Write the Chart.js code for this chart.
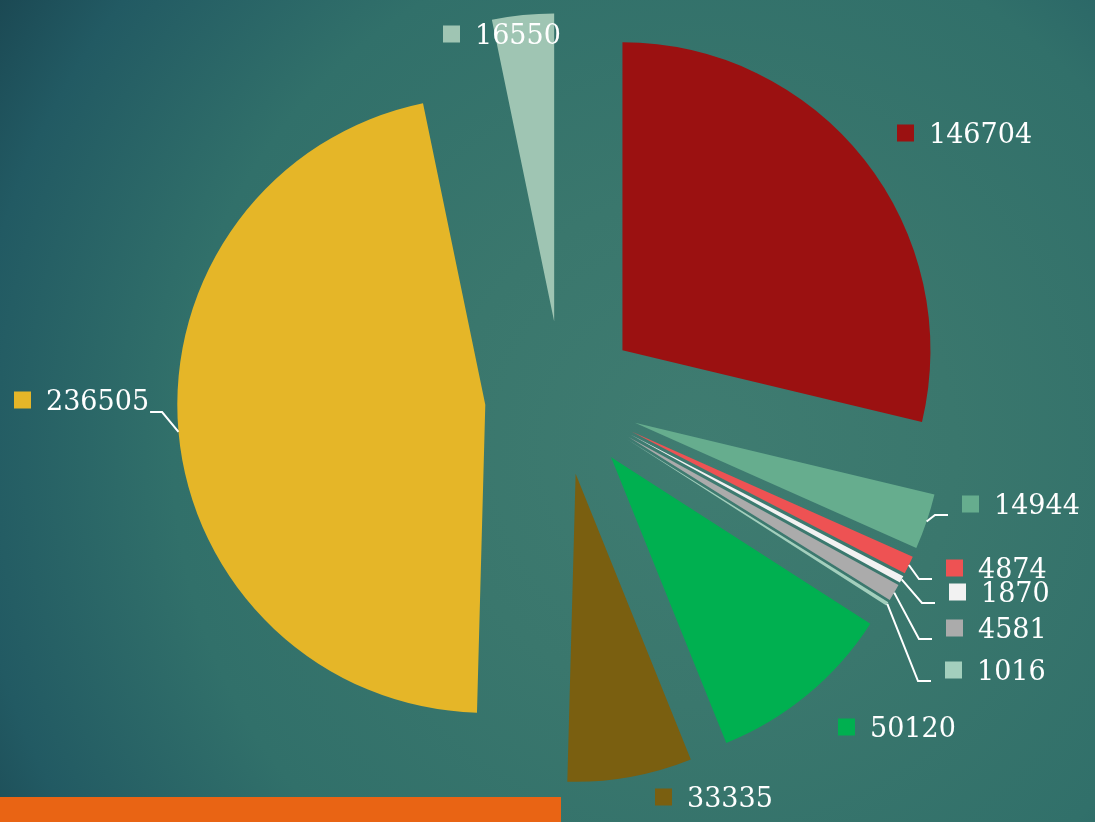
<!DOCTYPE html>
<html><head><meta charset="utf-8">
<script src="https://cdn.jsdelivr.net/npm/chart.js@4.4.1/dist/chart.umd.min.js"></script>
<style>
html,body{margin:0;padding:0;width:1095px;height:822px;overflow:hidden;}
body{background:radial-gradient(circle 850px at 700px 450px,#3f7c71 0%,#3a776d 30%,#31706a 62%,#225a63 86%,#1a4651 100%);}
#wrap{position:relative;width:1095px;height:822px;}
#band{position:absolute;left:0;top:797px;width:561px;height:25px;background:#E96414;}
canvas{position:absolute;left:0;top:0;}
</style></head><body>
<div id="wrap"><div id="band"></div><canvas id="c" width="1095" height="822"></canvas></div>
<script>
// ---- data ----
const values = [146704, 14944, 4874, 1870, 4581, 1016, 50120, 33335, 236505, 16550];
const categories = values.map(v => String(v));
const colors = ['#9B1111', '#66AD8E', '#EE5253', '#F2F2F2', '#ABABAB', '#A3CFBD', '#00B050', '#7A5F10', '#E5B628', '#9FC5B3'];

// ---- layout (label anchors: square left x, centre y) ----
const labelAnchors = [[897,133],[962,504],[946,568],[949,592],[946,628],[945,670],[838,727],[655,797],[14,400],[443,34]];
const leaderSide = ['none','right','right','right','right','right','none','none','left','none'];
const R = 308;        // pie radius
const EXPLODE = 77;   // distance every slice is pulled out

const explode = {
  id: 'explode',
  beforeDatasetsDraw(chart) {
    const ca = chart.chartArea;
    const cx = (ca.left + ca.right) / 2, cy = (ca.top + ca.bottom) / 2;
    chart.getDatasetMeta(0).data.forEach(a => {
      const mid = (a.startAngle + a.endAngle) / 2;
      a.x = cx + Math.cos(mid) * EXPLODE;
      a.y = cy + Math.sin(mid) * EXPLODE;
    });
  }
};

const valueLabels = {
  id: 'valueLabels',
  afterDatasetsDraw(chart) {
    const ctx = chart.ctx;
    const meta = chart.getDatasetMeta(0);
    ctx.save();
    ctx.font = '27px "DejaVu Serif"';
    ctx.textBaseline = 'alphabetic';
    ctx.textAlign = 'left';
    meta.data.forEach((arc, i) => {
      const [sx, cy] = labelAnchors[i];
      ctx.fillStyle = colors[i];
      ctx.fillRect(sx, cy - 8.5, 17, 17);
      const txt = categories[i];
      ctx.fillStyle = '#ffffff';
      ctx.fillText(txt, sx + 32, cy + 10);
      const side = leaderSide[i];
      if (side !== 'none') {
        const mid = (arc.startAngle + arc.endAngle) / 2;
        const px = arc.x + Math.cos(mid) * arc.outerRadius, py = arc.y + Math.sin(mid) * arc.outerRadius;
        ctx.strokeStyle = '#ffffff';
        ctx.lineWidth = 2;
        ctx.beginPath();
        if (side === 'right') {
          const ly = cy + 11;
          ctx.moveTo(px, py); ctx.lineTo(sx - 27, ly); ctx.lineTo(sx - 14, ly);
        } else {
          const w = ctx.measureText(txt).width;
          const tx = sx + 32 + w, ly = cy + 12;
          ctx.moveTo(tx + 1, ly); ctx.lineTo(tx + 13, ly); ctx.lineTo(px, py);
        }
        ctx.stroke();
      }
    });
    ctx.restore();
  }
};

new Chart(document.getElementById('c'), {
  type: 'pie',
  data: {
    labels: categories,
    datasets: [{
      data: values,
      backgroundColor: colors,
      borderWidth: 0,
      offset: 0
    }]
  },
  options: {
    responsive: false,
    animation: false,
    events: [],
    radius: R,
    rotation: 0,
    layout: { padding: { left: 29, right: 0, top: 0, bottom: 26 } },
    plugins: { legend: { display: false }, tooltip: { enabled: false } }
  },
  plugins: [explode, valueLabels]
});
</script>
</body></html>
